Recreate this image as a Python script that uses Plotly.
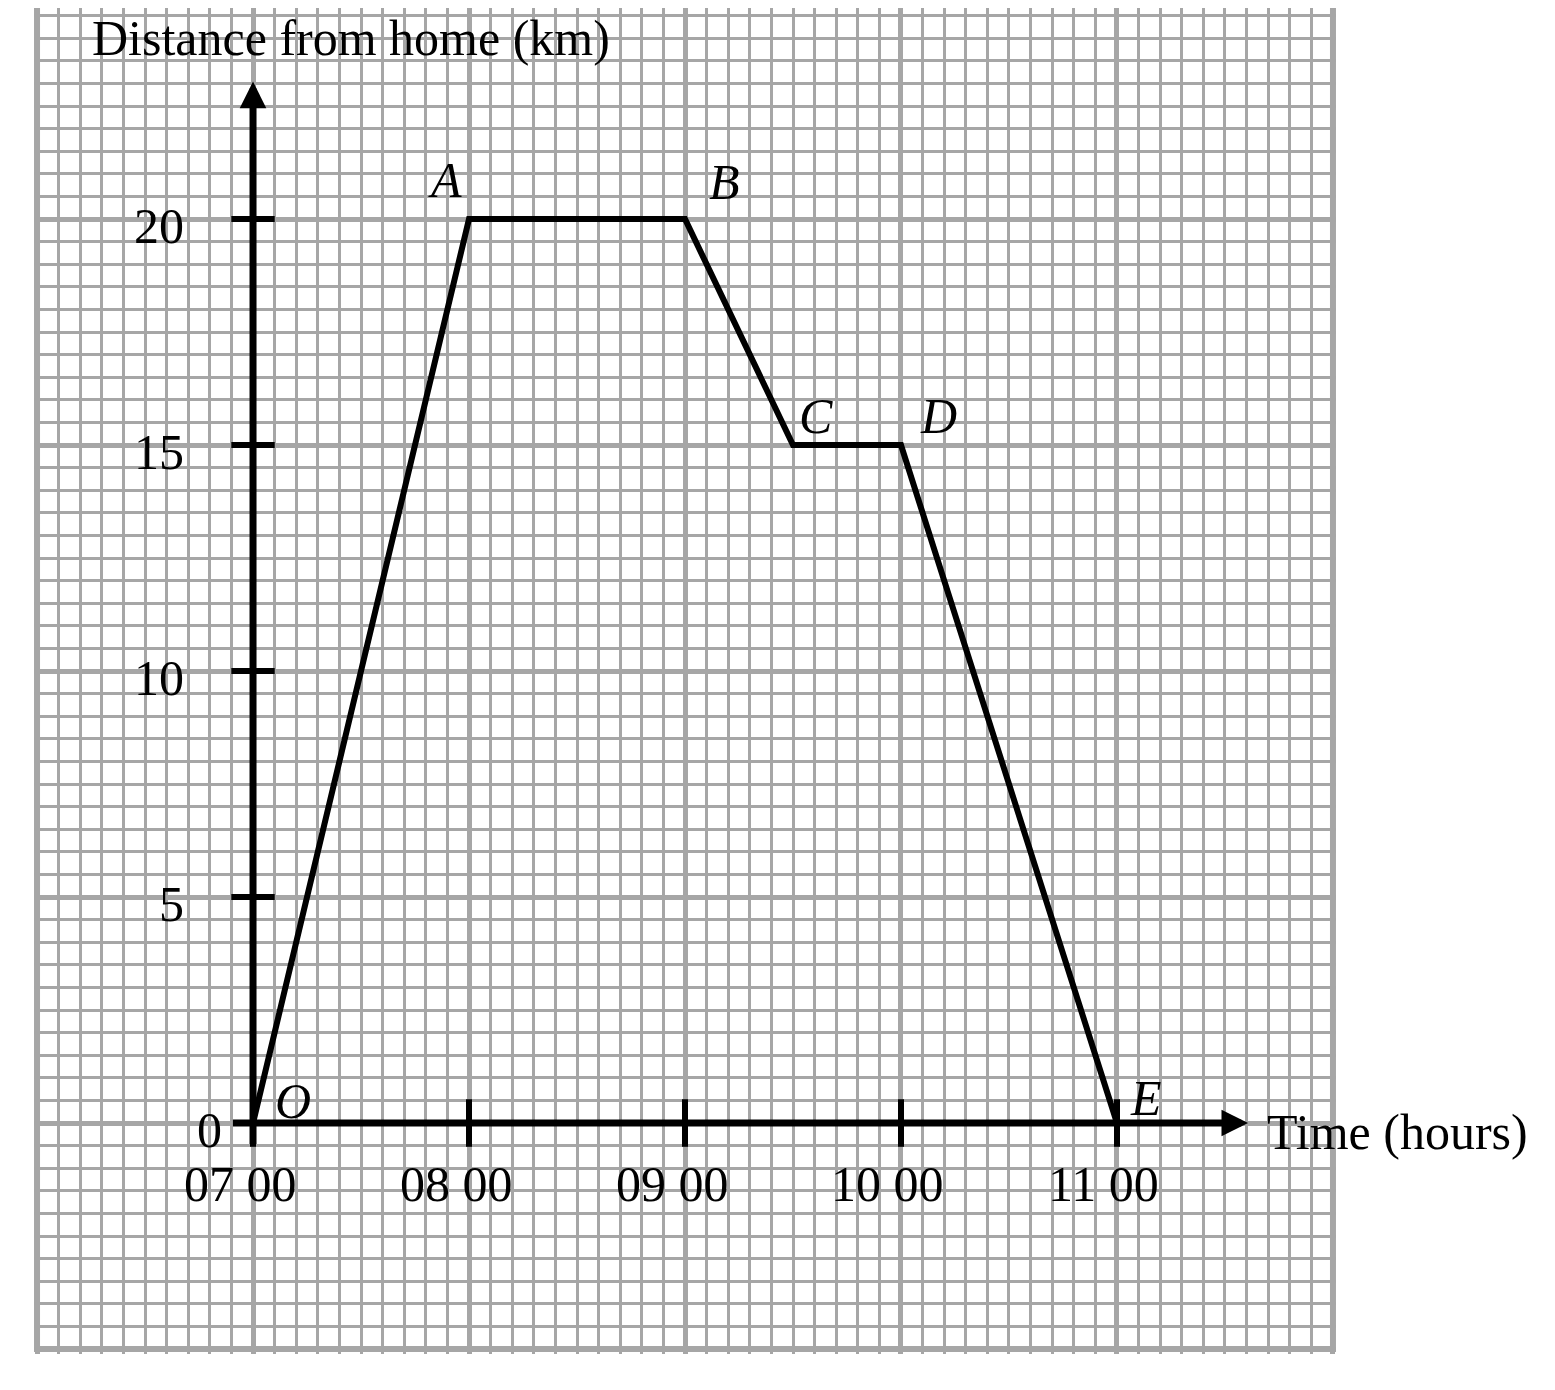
import plotly.graph_objects as go

# journey: clock time (hours) against distance from home (km)
times = [7, 8, 9, 9.5, 10, 11]
distances = [0, 20, 20, 15, 15, 0]
point_names = ["O", "A", "B", "C", "D", "E"]

hour_ticks = [7, 8, 9, 10, 11]
hour_labels = ["07 00", "08 00", "09 00", "10 00", "11 00"]
km_ticks = [0, 5, 10, 15, 20]
km_labels = ["0", "5", "10", "15", "20"]

# pixel offsets of the point letters from their points
letter_shift = {"O": (40, 22), "A": (-24, 39), "B": (39, 37),
                "C": (23, 29), "D": (38, 29), "E": (29, 25)}

FONT = "Liberation Serif"
GRID = "#a6a6a6"
X_RANGE = [5.986, 12.014]
Y_RANGE = [-5.11, 24.668]

fig = go.Figure()

# the journey
fig.add_trace(go.Scatter(x=times, y=distances, mode="lines",
                         line=dict(color="black", width=6)))

# tick marks on the drawn axes
fig.add_trace(go.Scatter(x=hour_ticks, y=[0] * len(hour_ticks), mode="markers",
                         marker=dict(symbol="line-ns", size=34, color="black",
                                     line=dict(color="black", width=6))))
fig.add_trace(go.Scatter(x=[7] * (len(km_ticks) - 1), y=km_ticks[1:], mode="markers",
                         marker=dict(symbol="line-ew", size=31, color="black",
                                     line=dict(color="black", width=6))))

annotations = []

# axes with arrow heads
annotations.append(dict(x=7, y=23.04, ax=7, ay=-0.5, xref="x", yref="y", axref="x", ayref="y",
                        text="", showarrow=True, arrowhead=2, arrowsize=0.76, arrowwidth=7,
                        arrowcolor="black", standoff=0))
annotations.append(dict(x=11.607, y=0, ax=6.9, ay=0, xref="x", yref="y", axref="x", ayref="y",
                        text="", showarrow=True, arrowhead=2, arrowsize=0.76, arrowwidth=7,
                        arrowcolor="black", standoff=0))

# tick labels
for h, lab in zip(hour_ticks, hour_labels):
    annotations.append(dict(x=h, y=0, text=lab, showarrow=False, xshift=-13, yshift=-61,
                            font=dict(family=FONT, size=50, color="black")))
for v, lab in zip(km_ticks, km_labels):
    annotations.append(dict(x=7, y=v, text=lab, showarrow=False, xanchor="right",
                            xshift=-29 if v == 0 else -67, yshift=-7,
                            font=dict(family=FONT, size=50, color="black")))

# axis titles
annotations.append(dict(x=7, y=24.0, text="Distance from home (km)", showarrow=False,
                        xanchor="left", xshift=-163,
                        font=dict(family=FONT, size=50, color="black")))
annotations.append(dict(x=11.685, y=-0.2, text="Time (hours)", showarrow=False,
                        xanchor="left", font=dict(family=FONT, size=50, color="black")))

# point letters
for t, d, name in zip(times, distances, point_names):
    dx, dy = letter_shift[name]
    annotations.append(dict(x=t, y=d, text="<i>" + name + "</i>", showarrow=False,
                            xshift=dx, yshift=dy,
                            font=dict(family=FONT, size=50, color="black")))

# graph paper border
border = dict(color=GRID, width=6)
shapes = [
    dict(type="line", xref="x", yref="y", x0=6, x1=6, y0=-5, y1=Y_RANGE[1], line=border, layer="below"),
    dict(type="line", xref="x", yref="y", x0=12, x1=12, y0=-5, y1=Y_RANGE[1], line=border, layer="below"),
    dict(type="line", xref="x", yref="y", x0=6, x1=12, y0=-5, y1=-5, line=border, layer="below"),
]

# the page body adds an 8 px margin, so the figure is 8 px smaller each way
fig.update_layout(
    width=1547, height=1382,
    margin=dict(l=26, r=219, t=0, b=36, pad=0),
    paper_bgcolor="white", plot_bgcolor="white",
    showlegend=False,
    annotations=annotations,
    shapes=shapes,
    xaxis=dict(range=X_RANGE, tick0=0, dtick=1, showgrid=True, gridcolor=GRID, gridwidth=5,
               minor=dict(tick0=0, dtick=0.1, showgrid=True, gridcolor=GRID, gridwidth=3),
               zeroline=False, showticklabels=False, ticks="", fixedrange=True),
    yaxis=dict(range=Y_RANGE, tick0=0, dtick=5, showgrid=True, gridcolor=GRID, gridwidth=5,
               minor=dict(tick0=0, dtick=0.5, showgrid=True, gridcolor=GRID, gridwidth=3),
               zeroline=False, showticklabels=False, ticks="", fixedrange=True),
)

fig.write_html("out.html")
